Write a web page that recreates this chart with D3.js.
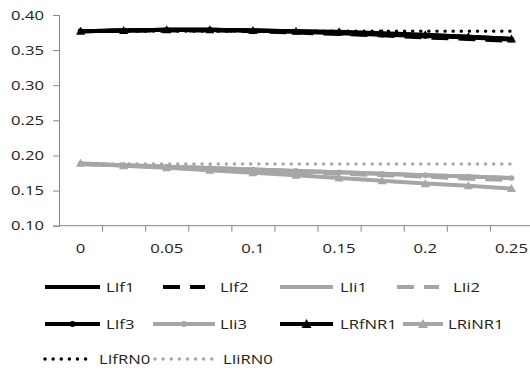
<!DOCTYPE html>
<html>
<head>
<meta charset="utf-8">
<script src="https://cdn.jsdelivr.net/npm/d3@7/dist/d3.min.js"></script>
<style>
  body { margin: 0; background: #fff; }
  text { font-family: "Open Sans", sans-serif; fill: #222; }
</style>
</head>
<body>
<svg id="chart" width="530" height="372"></svg>
<script>
// categories on the x axis (every second one labelled)
const categories = ["0", "0.025", "0.05", "0.075", "0.1", "0.125", "0.15", "0.175", "0.2", "0.225", "0.25"];
const xLabels = ["0", "", "0.05", "", "0.1", "", "0.15", "", "0.2", "", "0.25"];
const yTicks = [0.10, 0.15, 0.20, 0.25, 0.30, 0.35, 0.40];

// series values
const lIf1   = [0.377, 0.378, 0.379, 0.379, 0.378, 0.377, 0.375, 0.373, 0.371, 0.369, 0.366];
const lIf2   = [0.377, 0.378, 0.378, 0.378, 0.377, 0.375, 0.373, 0.371, 0.368, 0.366, 0.363];
const lIf3   = [0.377, 0.378, 0.379, 0.379, 0.378, 0.376, 0.374, 0.372, 0.370, 0.368, 0.365];
const lRfNR1 = [0.377, 0.378, 0.379, 0.379, 0.378, 0.377, 0.376, 0.374, 0.372, 0.369, 0.366];
const lIfRN0 = [0.377, 0.377, 0.377, 0.377, 0.377, 0.377, 0.377, 0.377, 0.377, 0.377, 0.377];
const lIi1   = [0.188, 0.186, 0.184, 0.182, 0.180, 0.178, 0.176, 0.174, 0.172, 0.170, 0.168];
const lIi2   = [0.188, 0.186, 0.183, 0.181, 0.179, 0.177, 0.174, 0.172, 0.170, 0.167, 0.165];
const lIi3   = [0.188, 0.186, 0.184, 0.182, 0.180, 0.178, 0.176, 0.174, 0.172, 0.170, 0.168];
const lRiNR1 = [0.189, 0.1855, 0.1825, 0.179, 0.1755, 0.172, 0.168, 0.164, 0.160, 0.157, 0.153];
const lIiRN0 = [0.188, 0.188, 0.188, 0.188, 0.188, 0.188, 0.188, 0.188, 0.188, 0.188, 0.188];

const BLACK = "#000";
const GRAY = "#a6a6a6";
const AXIS = "#868686";
const STRETCH = 1.28; // reference text is drawn wider than the font
const DOTS = "0.1 8";

const series = [
  { name: "LIi1",   values: lIi1,   color: GRAY,  dash: null,    marker: null },
  { name: "LIi2",   values: lIi2,   color: GRAY,  dash: "17 10", marker: null },
  { name: "LIi3",   values: lIi3,   color: GRAY,  dash: null,    marker: "circle" },
  { name: "LRiNR1", values: lRiNR1, color: GRAY,  dash: null,    marker: "triangle" },
  { name: "LIiRN0", values: lIiRN0, color: GRAY,  dash: DOTS,    marker: null },
  { name: "LIf1",   values: lIf1,   color: BLACK, dash: null,    marker: null },
  { name: "LIf2",   values: lIf2,   color: BLACK, dash: "17 10", marker: null },
  { name: "LIf3",   values: lIf3,   color: BLACK, dash: null,    marker: "circle" },
  { name: "LRfNR1", values: lRfNR1, color: BLACK, dash: null,    marker: "triangle" },
  { name: "LIfRN0", values: lIfRN0, color: BLACK, dash: DOTS,    marker: null }
];

// legend layout: [name, row, sample start, sample end, label x]
const legendItems = [
  ["LIf1", 0, 45, 100, 106], ["LIf2", 0, 163, 205, 220], ["LIi1", 0, 280, 333, 340], ["LIi2", 0, 397, 439, 453],
  ["LIf3", 1, 45, 100, 106], ["LIi3", 1, 153, 215, 220], ["LRfNR1", 1, 280, 333, 340], ["LRiNR1", 1, 403, 443, 448],
  ["LIfRN0", 2, 45, 93, 99], ["LIiRN0", 2, 155, 213, 223]
];
const legendRows = [287, 324, 359];

const svg = d3.select("#chart");

const x = d3.scaleBand().domain(categories).range([59, 533]);
const y = d3.scaleLinear().domain([0.10, 0.40]).range([225.7, 15]);
const cx = d => x(d) + x.bandwidth() / 2;

function stretch(sel) {
  sel.each(function () {
    const w = this.getComputedTextLength();
    if (w > 0) d3.select(this).attr("textLength", w * STRETCH).attr("lengthAdjust", "spacingAndGlyphs");
  });
}

function styleStroke(sel, s) {
  sel.attr("stroke", s.color)
    .attr("stroke-width", s.dash === DOTS ? 3.4 : 4)
    .attr("stroke-linecap", s.dash === DOTS ? "round" : "butt")
    .attr("stroke-dasharray", s.dash);
}

// y axis
const yAxis = svg.append("g")
  .attr("transform", "translate(59,0)")
  .call(d3.axisLeft(y).tickValues(yTicks).tickFormat(d3.format(".2f")).tickSize(6).tickPadding(9));
yAxis.select(".domain").attr("stroke", AXIS);
yAxis.selectAll(".tick line").attr("stroke", AXIS);
yAxis.selectAll("text").attr("font-size", 13).attr("fill", "#222").call(stretch);

// x axis, ticks on category boundaries
const xAxis = svg.append("g").attr("transform", `translate(0,${y(0.10)})`);
xAxis.append("line").attr("x1", 59).attr("x2", 533).attr("stroke", AXIS);
xAxis.selectAll(".xt")
  .data(categories.slice(1))
  .join("line")
  .attr("x1", d => x(d) + 0.5).attr("x2", d => x(d) + 0.5)
  .attr("y1", 0).attr("y2", 6)
  .attr("stroke", AXIS);
xAxis.selectAll(".xl")
  .data(categories)
  .join("text")
  .attr("x", d => cx(d))
  .attr("y", 27)
  .attr("text-anchor", "middle")
  .attr("font-size", 13)
  .text((d, i) => xLabels[i])
  .call(stretch);

// lines
const line = d3.line().x((d, i) => cx(categories[i])).y(d => y(d));

function drawMarker(g, type, color, px, py, big) {
  if (type === "circle") {
    g.append("circle").attr("cx", px).attr("cy", py).attr("r", big ? 3 : 2.8).attr("fill", color);
  } else if (type === "triangle") {
    const s = big ? 5 : 4.5;
    g.append("path")
      .attr("d", `M${px},${py - s}L${px + s},${py + s * 0.8}L${px - s},${py + s * 0.8}Z`)
      .attr("fill", color);
  }
}

const plot = svg.append("g");
series.forEach(s => {
  const g = plot.append("g");
  g.append("path")
    .attr("d", line(s.values))
    .attr("fill", "none")
    .call(styleStroke, s);
  if (s.marker) {
    s.values.forEach((v, i) => drawMarker(g, s.marker, s.color, cx(categories[i]), y(v), false));
  }
});

// legend
const legend = svg.append("g");
legendItems.forEach(([name, row, x0, x1, lx]) => {
  const s = series.find(d => d.name === name);
  const ly = legendRows[row];
  legend.append("line")
    .attr("x1", x0).attr("x2", x1).attr("y1", ly).attr("y2", ly)
    .call(styleStroke, s);
  if (s.marker) drawMarker(legend, s.marker, s.color, (x0 + x1) / 2, ly, true);
  legend.append("text")
    .attr("x", lx).attr("y", ly + 4.5)
    .attr("font-size", 13)
    .text(name)
    .call(stretch);
});
</script>
</body>
</html>
